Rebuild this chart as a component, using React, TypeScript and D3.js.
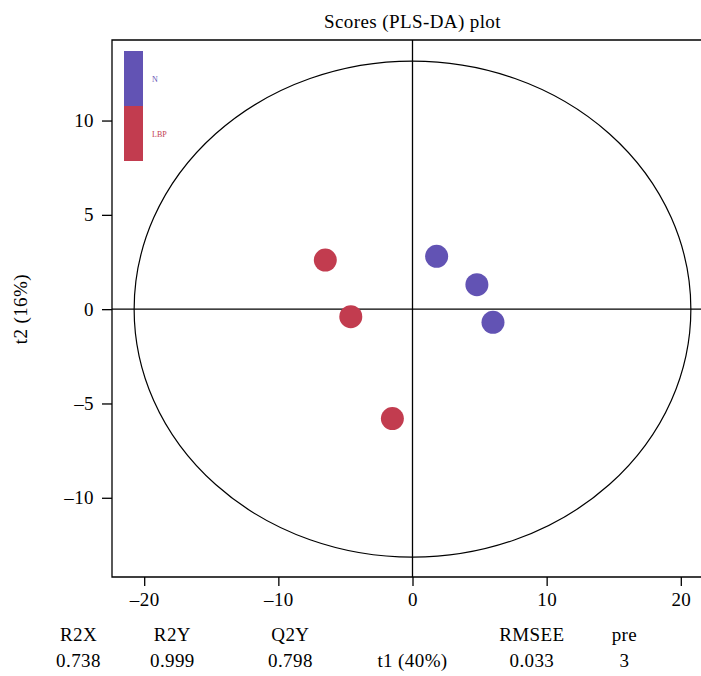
import React, { useEffect, useRef } from 'react'
import { select, scaleLinear, axisLeft, axisBottom } from 'd3'

// scores: t1 / t2 per group
const nT1 = [1.8, 4.8, 6.0]
const nT2 = [2.8, 1.3, -0.7]
const lbpT1 = [-6.5, -4.6, -1.5]
const lbpT2 = [2.6, -0.4, -5.8]

const groups = ['N', 'LBP']
const groupColors = ['#6253b4', '#c23c4f']

const xTicks = [-20, -10, 0, 10, 20]
const yTicks = [-10, -5, 0, 5, 10]

// Hotelling ellipse half axes (t1, t2)
const ellipseT1 = 20.75
const ellipseT2 = 13.15

const statNames = ['R2X', 'R2Y', 'Q2Y', 'RMSEE', 'pre']
const statValues = ['0.738', '0.999', '0.798', '0.033', '3']
const statPos = [-24.9, -17.9, -9.1, 8.9, 15.8]

const fmt = (d: number) => (d < 0 ? '\u2013' + Math.abs(d) : String(d))

export default function App() {
    const xRef = useRef<SVGGElement>(null)
    const yRef = useRef<SVGGElement>(null)

    const width = 701
    const height = 676
    const margin = { top: 40, right: -12, bottom: 99, left: 112 }
    const font = '"Liberation Serif", "DejaVu Serif", serif'
    const fs = 19
    const ls = 0.4

    const x = scaleLinear()
        .domain([-22.4, 22.4])
        .range([margin.left, width - margin.right])

    const y = scaleLinear()
        .domain([-14.2, 14.27])
        .range([height - margin.bottom, margin.top])

    useEffect(() => {
        select(xRef.current)
            .call(axisBottom(x).tickValues(xTicks).tickFormat(d => fmt(+d)).tickSize(9).tickPadding(7).tickSizeOuter(0))
            .call(g => g.select('.domain').remove())
            .attr('font-size', fs)
            .attr('font-family', font)
            .attr('letter-spacing', ls)
        select(yRef.current)
            .call(axisLeft(y).tickValues(yTicks).tickFormat(d => fmt(+d)).tickSize(10).tickPadding(8).tickSizeOuter(0))
            .call(g => g.select('.domain').remove())
            .attr('font-size', fs)
            .attr('font-family', font)
            .attr('letter-spacing', ls)
        select(xRef.current).selectAll('line').attr('stroke-width', 1.3)
        select(yRef.current).selectAll('line').attr('stroke-width', 1.3)
    }, [])

    const points = [
        ...lbpT1.map((t, i) => ({ t1: t, t2: lbpT2[i], g: 1 })),
        ...nT1.map((t, i) => ({ t1: t, t2: nT2[i], g: 0 })),
    ]

    const x0 = x(0)
    const y0 = y(0)
    const bottom = height - margin.bottom
    const right = width - margin.right

    // legend bar
    const legX = 124
    const legTop = 51
    const legH = 55

    return (
        <svg width={width} height={height} style={{ position: 'absolute', left: 0, top: 0, background: '#fff' }} fontFamily={font} letterSpacing={ls}>
            <text x={x0} y={28} textAnchor="middle" fontSize={fs}>Scores (PLS-DA) plot</text>

            {/* frame */}
            <path d={`M${right},${margin.top}H${margin.left}V${bottom}H${right}`} fill="none" stroke="#000" strokeWidth={1.3} />

            {/* crosshair */}
            <line x1={margin.left} x2={right} y1={y0} y2={y0} stroke="#000" strokeWidth={1.3} />
            <line x1={x0} x2={x0} y1={margin.top} y2={bottom} stroke="#000" strokeWidth={1.3} />

            <ellipse cx={x0} cy={y0} rx={x(ellipseT1) - x0} ry={y0 - y(ellipseT2)} fill="none" stroke="#000" strokeWidth={1.2} />

            {points.map((p, i) => (
                <circle key={i} cx={x(p.t1)} cy={y(p.t2)} r={11.5} fill={groupColors[p.g]} />
            ))}

            {groups.map((g, i) => (
                <g key={g}>
                    <rect x={legX} y={legTop + i * legH} width={19} height={legH} fill={groupColors[i]} />
                    <text x={legX + 28} y={legTop + i * legH + legH / 2 + 3} fontSize={8} letterSpacing={0} fill={groupColors[i]}>{g}</text>
                </g>
            ))}

            <g ref={xRef} transform={`translate(0,${bottom})`} />
            <g ref={yRef} transform={`translate(${margin.left},0)`} />

            <text transform={`translate(27,${y0}) rotate(-90)`} textAnchor="middle" fontSize={fs}>t2 (16%)</text>

            {statNames.map((s, i) => (
                <g key={s}>
                    <text x={x(statPos[i])} y={641} textAnchor="middle" fontSize={fs}>{s}</text>
                    <text x={x(statPos[i])} y={667} textAnchor="middle" fontSize={fs}>{statValues[i]}</text>
                </g>
            ))}
            <text x={x0} y={667} textAnchor="middle" fontSize={fs}>t1 (40%)</text>
        </svg>
    )
}
